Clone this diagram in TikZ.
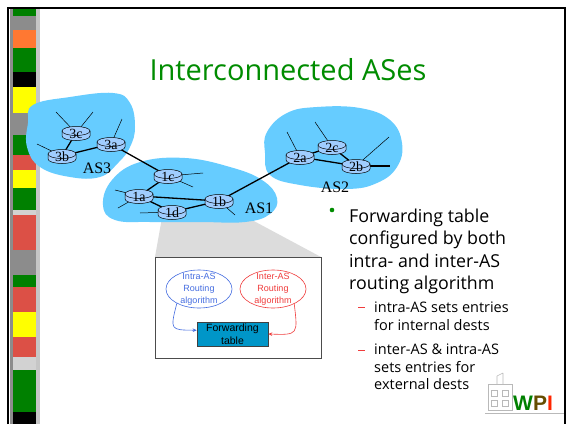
\documentclass[tikz,border=0pt]{standalone}
\usepackage{fontspec}
\setmainfont{Liberation Serif}
\newfontfamily\comicfont{Open Sans}
\newfontfamily\arialfont{Liberation Sans}
\usetikzlibrary{shapes.geometric,arrows.meta}

\definecolor{cloudblue}{RGB}{102,204,255}
\definecolor{routerblue}{RGB}{160,205,255}
\definecolor{titlegreen}{RGB}{0,140,0}
\definecolor{stripgray}{RGB}{140,140,140}
\definecolor{stripgreen}{RGB}{0,128,0}
\definecolor{stripred}{RGB}{220,80,70}
\definecolor{stripyellow}{RGB}{255,255,0}
\definecolor{striporange}{RGB}{255,120,50}
\definecolor{intrablue}{RGB}{70,110,225}
\definecolor{interred}{RGB}{240,60,60}
\definecolor{fwdblue}{RGB}{0,150,200}
\definecolor{zoomgray}{RGB}{220,220,220}

\tikzset{
  link/.style={line width=1.3pt, black},
  hostline/.style={line width=0.5pt, black},
  rtrstyle/.style={draw=black, line width=0.5pt, fill=routerblue},
  rtrlabel/.style={font=\fontsize{14}{14}\selectfont, inner sep=0pt},
  aslabel/.style={font=\fontsize{16}{16}\selectfont, inner sep=0pt},
  cloud/.style={fill=cloudblue},
  algo/.style={ellipse, minimum width=66pt, minimum height=38pt, inner sep=0pt, line width=0.6pt},
  algotext/.style={font=\arialfont\fontsize{9}{12}\selectfont, align=center, inner sep=0pt},
  maintext/.style={font=\comicfont\fontsize{17.8}{17.8}\selectfont, anchor=base west, inner sep=0pt},
  subtext/.style={font=\comicfont\fontsize{14.5}{14.5}\selectfont, anchor=base west, inner sep=0pt},
}

% a router: cylinder with a label, drawn at a named coordinate
\newcommand{\rtr}[2]{%
  \begin{scope}[shift={(#1)}]
    \filldraw[rtrstyle] (-14,-2) -- (-14,3) arc[start angle=180, end angle=360, x radius=14pt, y radius=4.5pt] -- (14,-2) -- cycle;
    \filldraw[rtrstyle] (0,-2) ellipse[x radius=14pt, y radius=4.5pt];
    \node[rtrlabel] (#1-lbl) at (0,1) {#2};
  \end{scope}}

\begin{document}
\begin{tikzpicture}[x=1pt,y=-1pt]
\useasboundingbox (0,0) rectangle (568,424);
\fill[white] (0,0) rectangle (568,424);

% decorative strip on the left
\fill[stripgray] (10,8) rectangle (40,424);
\fill[gray!45] (36,8) rectangle (40,424);
\foreach \c/\ya/\yb in {stripgreen/8/16, striporange/30/48, stripgreen/48/72, black/72/87,
  stripyellow/87/113, stripgreen/135/155, stripred/155/170, stripyellow/170/188,
  stripgreen/188/210, gray!35/210/215, stripred/215/250, stripgreen/275/287,
  stripred/287/312, stripyellow/312/337, stripred/337/357, gray!35/357/370,
  stripgreen/370/412, black/412/424}
  \fill[\c] (13,\ya) rectangle (36,\yb);

% slide frame
\draw[line width=2pt] (8,424) -- (8,8) -- (565,8) -- (565,424);

% title
\node[font=\comicfont\fontsize{29}{29}\selectfont, text=titlegreen] (title) at (288,70) {Interconnected ASes};

% zoom wedge under AS1
\fill[zoomgray] (163,212) -- (237,212) -- (321,257) -- (155,257) -- cycle;

% autonomous system clouds
\fill[cloud] plot[smooth cycle, tension=0.7] coordinates {
  (33,105) (70,97) (113,93) (130,103) (135,127) (130,147) (118,163)
  (100,177) (70,177) (40,167) (27,147) (28,123)};
\fill[cloud] plot[smooth cycle, tension=0.7] coordinates {
  (103,205) (112,180) (140,162) (185,158) (230,167) (262,180) (277,198)
  (270,214) (245,222) (200,222) (150,222) (115,220)};
\fill[cloud] plot[smooth cycle, tension=0.7] coordinates {
  (267,132) (287,113) (317,107) (360,108) (390,120) (402,143) (397,167)
  (377,183) (347,189) (300,185) (270,175) (265,153)};

% router positions
\coordinate (r3c) at (76,133);
\coordinate (r3b) at (62,156);
\coordinate (r3a) at (111,144);
\coordinate (r1c) at (168,176);
\coordinate (r1a) at (139,196);
\coordinate (r1d) at (172,212);
\coordinate (r1b) at (219,201);
\coordinate (r2a) at (300,157);
\coordinate (r2c) at (332,147);
\coordinate (r2b) at (356,166);

% host stubs
\coordinate (h3c1) at (56,112);
\coordinate (h3c2) at (93,112);
\coordinate (h3b) at (37,144);
\coordinate (h3a) at (122,119);
\coordinate (h1c1) at (203,173);
\coordinate (h1c2) at (193,187);
\coordinate (h1a1) at (115,190);
\coordinate (h1a2) at (118,208);
\coordinate (h1d) at (140,213);
\coordinate (h1b) at (235,215);
\coordinate (h2a) at (287,132);
\coordinate (h2c) at (315,122);
\coordinate (h2b) at (389,137);
\coordinate (x2b) at (390,166);

\foreach \r/\h in {r3c/h3c1, r3c/h3c2, r3b/h3b, r3a/h3a, r1c/h1c1, r1c/h1c2,
  r1a/h1a1, r1a/h1a2, r1d/h1d, r1b/h1b, r2a/h2a, r2c/h2c, r2b/h2b}
  \draw[hostline] (\r) -- (\h);

% links between routers
\foreach \a/\b in {r3c/r3b, r3b/r3a, r3a/r1c, r1c/r1a, r1a/r1b, r1a/r1d, r1d/r1b,
  r1b/r2a, r2a/r2c, r2a/r2b, r2c/r2b, r2b/x2b}
  \draw[link] (\a) -- (\b);

% routers
\rtr{r3c}{3c}
\rtr{r3b}{3b}
\rtr{r3a}{3a}
\rtr{r1c}{1c}
\rtr{r1a}{1a}
\rtr{r1d}{1d}
\rtr{r1b}{1b}
\rtr{r2a}{2a}
\rtr{r2c}{2c}
\rtr{r2b}{2b}

% AS names
\node[aslabel] (as3) at (97,168) {AS3};
\node[aslabel] (as1) at (259,208) {AS1};
\node[aslabel] (as2) at (335,187) {AS2};

% router internals
\node[draw=black!70, fill=white, line width=0.6pt, minimum width=166pt, minimum height=101pt, inner sep=0pt] (ctrl) at (238,307.5) {};
\node[algo, draw=intrablue] (intra) at (199,289) {};
\node[algotext, text=intrablue] (intratext) at (199,289) {Intra-AS\\Routing\\algorithm};
\node[algo, draw=interred] (inter) at (273,289) {};
\node[algotext, text=interred] (intertext) at (273,289) {Inter-AS\\Routing\\algorithm};
\node[draw=black!75, fill=fwdblue, line width=0.6pt, minimum width=71pt, minimum height=24pt, inner sep=0pt] (fwd) at (232.5,334) {};
\node[font=\arialfont\fontsize{10.5}{13}\selectfont, align=center, inner sep=0pt] (fwdtext) at (232.5,334) {Forwarding\\table};
\draw[intrablue, line width=0.6pt, -{Stealth[length=4pt,width=3.5pt]}] (intra.213) .. controls (170,330) .. (fwd.174);
\draw[interred, line width=0.6pt, -{Stealth[length=4pt,width=3.5pt]}] (inter.-35) .. controls (298,335) .. (fwd.east);

% bullet text
\fill[titlegreen] (332,210) circle[radius=2.3pt];
\node[maintext] (t1) at (349,222) {Forwarding table};
\node[maintext] (t2) at (349,244.5) {configured by both};
\node[maintext] (t3) at (349,267) {intra- and inter-AS};
\node[maintext] (t4) at (349,289) {routing algorithm};
\draw[interred, line width=1pt] (358,307) -- (365,307);
\draw[interred, line width=1pt] (358,350) -- (365,350);
\node[subtext] (s1) at (374,312) {intra-AS sets entries};
\node[subtext] (s2) at (374,330) {for internal dests};
\node[subtext] (s3) at (374,354) {inter-AS \& intra-AS};
\node[subtext] (s4) at (374,372) {sets entries for};
\node[subtext] (s5) at (374,389) {external dests};

% logo
\begin{scope}[gray!55, line width=0.6pt]
  \draw (488,384) rectangle (512,410);
  \draw (497,376) -- (497,384) (503,373) -- (503,384) (497,376) -- (503,373);
  \draw (491,390) rectangle (497,396) (491,400) rectangle (497,406);
  \draw (502,390) rectangle (508,396) (502,400) rectangle (508,406);
  \draw (485,413) -- (564,413);
\end{scope}
\node[font=\arialfont\bfseries\fontsize{21}{21}\selectfont, anchor=base west, inner sep=0pt] (wpi) at (513,410)
  {\textcolor{stripgreen}{W}\textcolor{stripgreen!60!red}{P}\textcolor{red!85!yellow}{I}};
\end{tikzpicture}
\end{document}
